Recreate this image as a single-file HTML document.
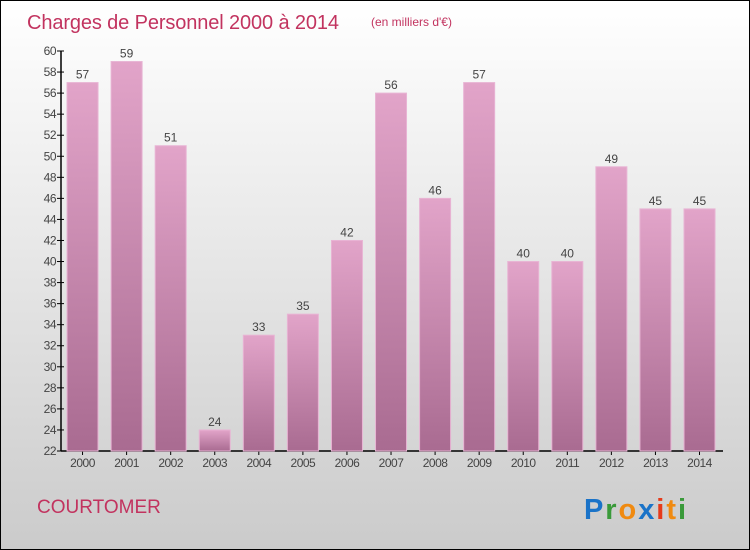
<!DOCTYPE html>
<html><head><meta charset="utf-8"><style>
body{margin:0;}
#c{position:relative;width:748px;height:548px;border:1px solid #000;background:linear-gradient(#ffffff,#cbcbcb);font-family:"Liberation Sans",sans-serif;overflow:hidden}
</style></head><body>
<div id="c">
<svg width="748" height="548">
<defs><linearGradient id="g" x1="0" y1="0" x2="0" y2="1"><stop offset="0" stop-color="#e2a4c9"/><stop offset="1" stop-color="#a96b91"/></linearGradient></defs>
<text x="26" y="28" font-size="20" textLength="312" fill="#c2335f">Charges de Personnel 2000 à 2014</text>
<text x="370" y="25" font-size="12" fill="#c2335f">(en milliers d'€)</text>
<text x="36" y="512" font-size="19" fill="#c2335f">COURTOMER</text>
<g id="axes"></g><g id="bars"></g>
<g font-size="29" font-weight="bold" font-family="Liberation Sans,sans-serif">
<text x="583" y="518" textLength="102"><tspan fill="#1a73c8">P</tspan><tspan fill="#3a9a3a">r</tspan><tspan fill="#f08a10">o</tspan><tspan fill="#1a73c8">x</tspan><tspan fill="#e63a1a">i</tspan><tspan fill="#f08a10">t</tspan><tspan fill="#3a9a3a">i</tspan></text></g>
</svg></div>
<script>
const years=["2000","2001","2002","2003","2004","2005","2006","2007","2008","2009","2010","2011","2012","2013","2014"];
const values=[57,59,51,24,33,35,42,56,46,57,40,40,49,45,45];
const yTicks=[22,24,26,28,30,32,34,36,38,40,42,44,46,48,50,52,54,56,58,60];
const NS="http://www.w3.org/2000/svg";
const x0=59.5,slot=44.07,ymin=22,ymax=60,yTop=50,yBot=450;
const y=v=>yBot-(v-ymin)/(ymax-ymin)*(yBot-yTop);
const xc=i=>x0+slot*(i+0.5);
function mk(t,a,p){const e=document.createElementNS(NS,t);for(const k in a)e.setAttribute(k,a[k]);p.appendChild(e);return e;}
const ax=document.getElementById('axes'),bg=document.getElementById('bars');
let l=mk('line',{x1:60,y1:yTop,x2:60,y2:yBot,stroke:'#000','stroke-width':1.5},ax);


l=mk('line',{x1:60,y1:yBot,x2:722,y2:yBot,stroke:'#000','stroke-width':1.5},ax);


yTicks.forEach(v=>{mk('line',{x1:56,y1:y(v),x2:63,y2:y(v),stroke:'#000'},ax);
const t=mk('text',{x:55,y:y(v)+4,'font-size':12,fill:'#444','text-anchor':'end','letter-spacing':'-0.5'},ax);t.textContent=v;

});
years.forEach((yr,i)=>{
const b=mk('rect',{x:xc(i)-15.5,y:y(values[i]),width:31,height:yBot-y(values[i]),fill:'url(#g)',stroke:'#e8b4d4','stroke-width':1},bg);


const t=mk('text',{x:xc(i),y:y(values[i])-4,'font-size':12,fill:'#444','text-anchor':'middle'},bg);t.textContent=values[i];


mk('line',{x1:xc(i),y1:yBot,x2:xc(i),y2:yBot+4,stroke:'#000'},ax);
const xl=mk('text',{x:xc(i),y:yBot+16,'font-size':12,fill:'#444','text-anchor':'middle','letter-spacing':'-0.5'},ax);xl.textContent=yr;


});
</script>
</body></html>
